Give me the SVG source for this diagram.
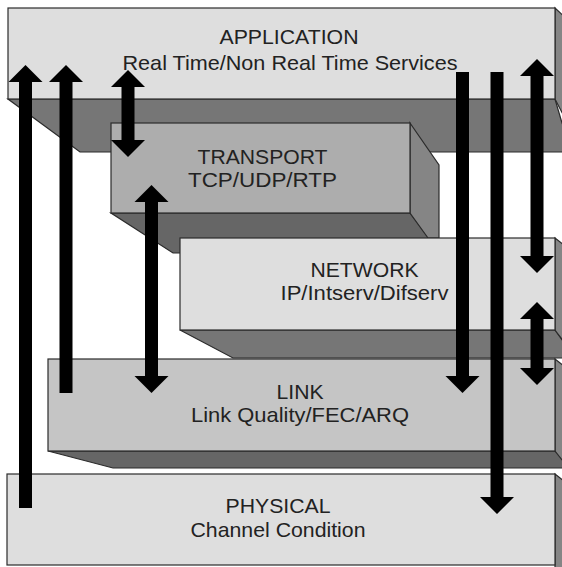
<svg xmlns="http://www.w3.org/2000/svg" width="562" height="567" viewBox="0 0 562 567">
  <style>
    .edge { stroke: #2b2b2b; stroke-width: 1.2; stroke-linejoin: miter; }
    .light { fill: #dedede; }
    .mid { fill: #c5c5c5; }
    .tp { fill: #adadad; }
    .side { fill: #858585; }
    .under { fill: #767676; }
    .under2 { fill: #666666; }
    .label { font-family: "Liberation Sans", Arial, sans-serif; font-size: 21px; fill: #222222; text-anchor: middle; }
    .arrow { fill: #000000; }
  </style>

  <rect x="0" y="0" width="562" height="567" fill="#ffffff"/>

  <!-- Slabs are painted back to front: application, transport, network, link, physical -->

  <!-- Application layer slab (top) -->
  <g id="application">
    <polygon class="under edge" points="8,99 555,99 562,123 575,152 80,152"/>
    <polygon class="side edge" points="555,8 570,22 570,128 555,99"/>
    <rect class="light edge" x="8" y="8" width="547" height="91"/>
    <text class="label" x="289" y="44" textLength="139" lengthAdjust="spacingAndGlyphs">APPLICATION</text>
    <text class="label" x="290" y="70" textLength="335" lengthAdjust="spacingAndGlyphs">Real Time/Non Real Time Services</text>
  </g>

  <!-- Transport layer slab -->
  <g id="transport">
    <polygon class="under2 edge" points="111,213 410,213 440,253 173,253"/>
    <polygon class="side edge" points="410,123 439,165 439,238 428,238 410,213"/>
    <rect class="tp edge" x="111" y="123" width="299" height="90"/>
    <text class="label" x="262.5" y="164" textLength="130" lengthAdjust="spacingAndGlyphs">TRANSPORT</text>
    <text class="label" x="262.5" y="187" textLength="149" lengthAdjust="spacingAndGlyphs">TCP/UDP/RTP</text>
  </g>

  <!-- Network layer slab -->
  <g id="network">
    <polygon class="under edge" points="180,330 555,330 575,358 233,358"/>
    <polygon class="side edge" points="555,238 570,250 570,350 555,330"/>
    <rect class="light edge" x="180" y="238" width="375" height="92"/>
    <text class="label" x="364.5" y="277" textLength="108" lengthAdjust="spacingAndGlyphs">NETWORK</text>
    <text class="label" x="364.5" y="300" textLength="168" lengthAdjust="spacingAndGlyphs">IP/Intserv/Difserv</text>
  </g>

  <!-- Link layer slab -->
  <g id="link">
    <polygon class="under2 edge" points="48,451 555,451 575,468 113,468"/>
    <polygon class="side edge" points="555,359 570,371 570,470 555,451"/>
    <rect class="mid edge" x="48" y="359" width="507" height="92"/>
    <text class="label" x="300" y="399" textLength="47" lengthAdjust="spacingAndGlyphs">LINK</text>
    <text class="label" x="300" y="422" textLength="218" lengthAdjust="spacingAndGlyphs">Link Quality/FEC/ARQ</text>
  </g>

  <!-- Physical layer slab (bottom) -->
  <g id="physical">
    <polygon class="side edge" points="555,474 570,486 570,570 555,570"/>
    <rect class="light edge" x="7" y="474" width="548" height="91"/>
    <text class="label" x="278" y="513" textLength="105" lengthAdjust="spacingAndGlyphs">PHYSICAL</text>
    <text class="label" x="278" y="537" textLength="175" lengthAdjust="spacingAndGlyphs">Channel Condition</text>
  </g>

  <!-- Cross-layer signalling arrows -->
  <g id="connectors">
    <polygon class="arrow" points="25.5,65 42.5,82 32,82 32,508 19,508 19,82 8.5,82"/>
    <polygon class="arrow" points="66,65 83,82 72.5,82 72.5,393 59.5,393 59.5,82 49,82"/>
    <polygon class="arrow" points="128,70 145,87 134.5,87 134.5,140 145,140 128,157 111,140 121.5,140 121.5,87 111,87"/>
    <polygon class="arrow" points="151.5,185 168.5,202 158,202 158,376 168.5,376 151.5,393 134.5,376 145,376 145,202 134.5,202"/>
    <polygon class="arrow" points="456,72 469,72 469,376 479.5,376 462.5,393 445.5,376 456,376"/>
    <polygon class="arrow" points="490.5,72 503.5,72 503.5,497 514,497 497,514 480,497 490.5,497"/>
    <polygon class="arrow" points="537,59 554,76 543.5,76 543.5,256 554,256 537,273 520,256 530.5,256 530.5,76 520,76"/>
    <polygon class="arrow" points="537,302 554,319 543.5,319 543.5,368 554,368 537,385 520,368 530.5,368 530.5,319 520,319"/>
  </g>
</svg>
